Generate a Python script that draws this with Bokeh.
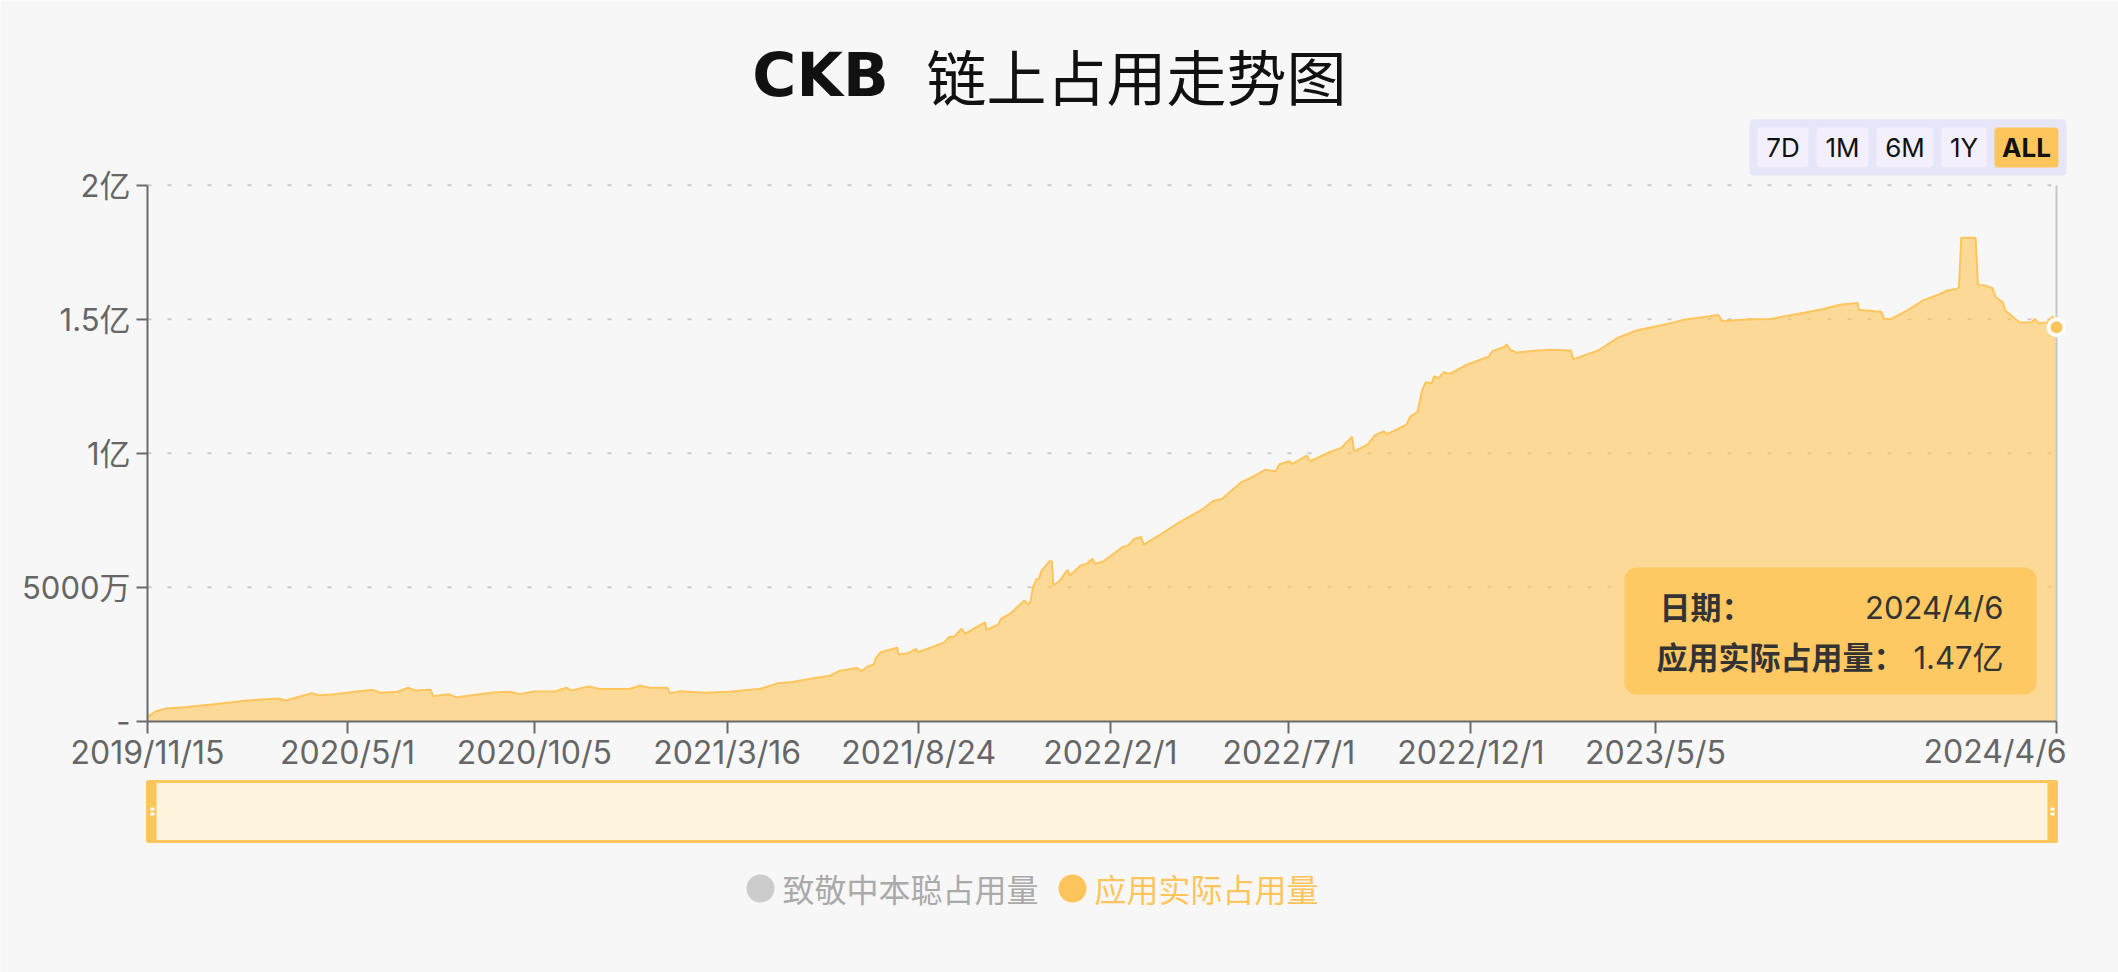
import pandas as pd
from bokeh.plotting import figure
from bokeh.models import ColumnDataSource, FixedTicker, Range1d, BoxAnnotation, Label
from bokeh.embed import file_html
from bokeh.resources import INLINE

# ---------------- data ----------------
dates = [
    "2019-11-15", "2019-11-22", "2019-11-30", "2019-12-16", "2020-01-08", "2020-02-07", "2020-03-04",
    "2020-03-10", "2020-04-01", "2020-04-07", "2020-04-18", "2020-05-07", "2020-05-22", "2020-05-29",
    "2020-06-12", "2020-06-21", "2020-06-27", "2020-07-10", "2020-07-12", "2020-07-25", "2020-08-01",
    "2020-08-09", "2020-08-31", "2020-09-15", "2020-09-23", "2020-10-04", "2020-10-23", "2020-11-01",
    "2020-11-05", "2020-11-20", "2020-11-29", "2020-12-24", "2021-01-02", "2021-01-10", "2021-01-25",
    "2021-01-27", "2021-02-05", "2021-02-25", "2021-03-18", "2021-04-13", "2021-04-28", "2021-05-10",
    "2021-05-25", "2021-06-02", "2021-06-10", "2021-06-18", "2021-07-03", "2021-07-07", "2021-07-12",
    "2021-07-17", "2021-07-19", "2021-07-23", "2021-08-06", "2021-08-07", "2021-08-15", "2021-08-22",
    "2021-08-23", "2021-09-04", "2021-09-15", "2021-09-18", "2021-09-23", "2021-09-29", "2021-10-02",
    "2021-10-09", "2021-10-19", "2021-10-20", "2021-10-30", "2021-11-01", "2021-11-09", "2021-11-17",
    "2021-11-21", "2021-11-24", "2021-11-26", "2021-11-28", "2021-12-01", "2021-12-03", "2021-12-05",
    "2021-12-12", "2021-12-14", "2021-12-15", "2021-12-20", "2021-12-27", "2021-12-29", "2022-01-07",
    "2022-01-12", "2022-01-17", "2022-01-19", "2022-01-26", "2022-02-11", "2022-02-16", "2022-02-21",
    "2022-02-27", "2022-03-01", "2022-03-16", "2022-03-28", "2022-04-20", "2022-04-28", "2022-05-06",
    "2022-05-22", "2022-05-30", "2022-06-11", "2022-06-20", "2022-06-23", "2022-07-01", "2022-07-04",
    "2022-07-16", "2022-07-19", "2022-08-04", "2022-08-14", "2022-08-23", "2022-08-25", "2022-09-05",
    "2022-09-11", "2022-09-19", "2022-09-21", "2022-10-08", "2022-10-11", "2022-10-17", "2022-10-21",
    "2022-10-24", "2022-10-29", "2022-10-31", "2022-11-04", "2022-11-08", "2022-11-13", "2022-11-28",
    "2022-12-16", "2022-12-19", "2022-12-29", "2022-12-31", "2023-01-03", "2023-01-08", "2023-01-22",
    "2023-02-05", "2023-02-23", "2023-02-25", "2023-03-14", "2023-03-19", "2023-04-03", "2023-04-19",
    "2023-05-07", "2023-05-22", "2023-05-29", "2023-06-27", "2023-06-30", "2023-07-23", "2023-08-10",
    "2023-09-08", "2023-09-22", "2023-10-07", "2023-10-22", "2023-10-23", "2023-11-05", "2023-11-11",
    "2023-11-13", "2023-11-19", "2023-11-30", "2023-12-16", "2023-12-29", "2024-01-05", "2024-01-13",
    "2024-01-15", "2024-01-17", "2024-01-29", "2024-01-31", "2024-02-06", "2024-02-12", "2024-02-15",
    "2024-02-21", "2024-02-23", "2024-02-28", "2024-03-06", "2024-03-16", "2024-03-19", "2024-03-22",
    "2024-03-29", "2024-04-03", "2024-04-06",
]
# 应用实际占用量, in 亿
values_yi = [
    0.015, 0.037, 0.047, 0.052, 0.062, 0.077, 0.085,
    0.077, 0.104, 0.097, 0.100, 0.110, 0.117, 0.106,
    0.110, 0.125, 0.115, 0.117, 0.093, 0.101, 0.089,
    0.094, 0.107, 0.110, 0.101, 0.111, 0.112, 0.125,
    0.115, 0.130, 0.120, 0.120, 0.133, 0.125, 0.125,
    0.104, 0.112, 0.106, 0.110, 0.121, 0.142, 0.146,
    0.158, 0.164, 0.170, 0.187, 0.199, 0.187, 0.204,
    0.211, 0.235, 0.257, 0.274, 0.249, 0.254, 0.270,
    0.257, 0.276, 0.295, 0.313, 0.316, 0.345, 0.326,
    0.345, 0.369, 0.341, 0.361, 0.382, 0.401, 0.435,
    0.450, 0.435, 0.448, 0.500, 0.531, 0.531, 0.560,
    0.597, 0.597, 0.506, 0.522, 0.565, 0.544, 0.581,
    0.587, 0.606, 0.587, 0.596, 0.649, 0.656, 0.680,
    0.687, 0.659, 0.699, 0.734, 0.792, 0.821, 0.830,
    0.892, 0.908, 0.938, 0.933, 0.958, 0.970, 0.960,
    0.991, 0.970, 1.004, 1.020, 1.062, 1.007, 1.032,
    1.066, 1.082, 1.070, 1.107, 1.137, 1.153, 1.236,
    1.265, 1.261, 1.286, 1.280, 1.302, 1.296, 1.331,
    1.361, 1.381, 1.396, 1.406, 1.386, 1.376, 1.381,
    1.386, 1.383, 1.351, 1.377, 1.386, 1.430, 1.458,
    1.475, 1.490, 1.498, 1.516, 1.493, 1.500, 1.501,
    1.525, 1.537, 1.554, 1.560, 1.535, 1.530, 1.528,
    1.501, 1.501, 1.526, 1.570, 1.592, 1.607, 1.613,
    1.620, 1.804, 1.804, 1.629, 1.626, 1.617, 1.582,
    1.563, 1.532, 1.514, 1.488, 1.489, 1.501, 1.485,
    1.488, 1.510, 1.470,
]

x_tick_dates = ["2019-11-15", "2020-05-01", "2020-10-05", "2021-03-16", "2021-08-24",
                "2022-02-01", "2022-07-01", "2022-12-01", "2023-05-05", "2024-04-06"]
y_ticks = [0, 0.5, 1, 1.5, 2]
y_tick_labels = ["-", "5000万", "1亿", "1.5亿", "2亿"]
range_buttons = ["7D", "1M", "6M", "1Y", "ALL"]
legend_labels = ["致敬中本聪占用量", "应用实际占用量"]
title_brand = "CKB"
title_text = "链上占用走势图"
tooltip_labels = ["日期：", "应用实际占用量："]

# ---------------- styles / layout ----------------
BG = "#f7f7f7"
ORANGE = "#fdc55b"
AXIS = "#6a6a6a"
LABEL = "#666666"
CJK = "Noto Sans CJK SC"
MIXED = 'Inter, "Noto Sans CJK SC"'

W, H = 2118, 972
X_FIRST, X_LAST = 147, 2056           # pixel columns of first / last date
Y_ZERO, PX_PER_YI = 720.7, 268.0      # pixel row of 0 and pixels per 1亿


def ms(ts):
    return ts.value // 10**6


def fmt_date(ts):
    return f"{ts.year}/{ts.month}/{ts.day}"


t = pd.to_datetime(dates)
t0, t1 = t[0], t[-1]
source = ColumnDataSource(dict(x=t, y=values_yi))

# the frame covers the whole canvas; both axes are pinned at data locations
ms_per_px = (ms(t1) - ms(t0)) / (X_LAST - X_FIRST)
x_range = Range1d(ms(t0) - X_FIRST * ms_per_px, ms(t1) + (W - X_LAST) * ms_per_px)
y_range = Range1d(-(H - Y_ZERO) / PX_PER_YI, Y_ZERO / PX_PER_YI)

p = figure(width=W, height=H, x_axis_type="datetime", output_backend="svg", toolbar_location=None,
           x_range=x_range, y_range=y_range,
           min_border_left=0, min_border_right=0, min_border_top=0, min_border_bottom=0)
p.background_fill_color = BG
p.border_fill_color = BG
p.outline_line_color = None
p.xgrid.visible = False
p.ygrid.visible = False

# dotted horizontal grid lines, limited to the data span
grid_y = y_ticks[1:]
p.segment(x0=[ms(t0)] * len(grid_y), y0=grid_y, x1=[ms(t1)] * len(grid_y), y1=grid_y,
          line_color="#cccccc", line_width=2, line_dash="4 16")

# area + line
p.varea(x="x", y1=0, y2="y", source=source, fill_color="#ffc65a", fill_alpha=0.62)
p.line(x="x", y="y", source=source, line_color=ORANGE, line_width=2)
# axis pointer at latest date
p.segment(x0=[ms(t1)], y0=[y_ticks[0]], x1=[ms(t1)], y1=[y_ticks[-1]], line_color="#c8c8c8", line_width=2)
p.scatter(x=[ms(t1)], y=[values_yi[-1]], size=16, marker="circle",
          fill_color=ORANGE, line_color="white", line_width=4)

# y axis, pinned at the first date
ya = p.yaxis[0]
ya.fixed_location = ms(t0)
ya.ticker = FixedTicker(ticks=y_ticks)
ya.major_label_overrides = dict(zip(y_ticks, y_tick_labels))
ya.bounds = (y_ticks[0], y_ticks[-1])
ya.axis_line_color = AXIS
ya.axis_line_width = 2
ya.major_tick_line_color = AXIS
ya.major_tick_line_width = 2
ya.major_tick_in = 0
ya.major_tick_out = 11
ya.minor_tick_line_color = None
ya.major_label_standoff = 6
ya.major_label_text_font = MIXED
ya.major_label_text_font_size = "31px"
ya.major_label_text_color = LABEL

# x axis, pinned at y = 0
xt = pd.to_datetime(x_tick_dates)
x_tick_ms = [ms(v) for v in xt]
x_over = {k: fmt_date(v) for k, v in zip(x_tick_ms, xt)}
x_over[x_tick_ms[-1]] = ""
xa = p.xaxis[0]
xa.fixed_location = 0
xa.ticker = FixedTicker(ticks=x_tick_ms)
xa.major_label_overrides = x_over
xa.bounds = (ms(t0), ms(t1))
xa.axis_line_color = AXIS
xa.axis_line_width = 2
xa.major_tick_line_color = AXIS
xa.major_tick_line_width = 2
xa.major_tick_in = 0
xa.major_tick_out = 12
xa.minor_tick_line_color = None
xa.major_label_standoff = 0
xa.major_label_text_font = MIXED
xa.major_label_text_font_size = "32px"
xa.major_label_text_color = LABEL


def sy(Y):
    return H - Y


def lab(X, Y, text, size, font=CJK, color="#111111", align="left", style="normal", baseline="middle"):
    p.add_layout(Label(x=X, y=sy(Y), x_units="screen", y_units="screen", text=text,
                       text_font=font, text_font_size=size, text_font_style=style,
                       text_color=color, text_align=align, text_baseline=baseline))


def box(L, R, T, B, color, radius=0, line_color=None, line_width=1):
    p.add_layout(BoxAnnotation(left=L, right=R, top=sy(T), bottom=sy(B),
                               left_units="screen", right_units="screen",
                               top_units="screen", bottom_units="screen",
                               fill_color=color, fill_alpha=1,
                               line_color=line_color, line_alpha=1, line_width=line_width,
                               border_radius=int(radius), level="annotation"))


# last x label, kept inside the canvas
lab(2066, 751, fmt_date(xt[-1]), "32px", font=MIXED, color=LABEL, align="right")

# ---------------- title ----------------
lab(820, 74, title_brand, "60px", font="DejaVu Sans", align="center", style="bold")
lab(926, 74, title_text, "60px")

# ---------------- range buttons ----------------
box(1749, 2066, 119, 175, "#e7e5f8", radius=4)
btn_edges = [(1757, 1808), (1816, 1868), (1876, 1933), (1941, 1986), (1994, 2058)]
for name, (l, r) in zip(range_buttons, btn_edges):
    active = name == range_buttons[-1]
    box(l, r, 127, 167, ORANGE if active else "#f3effd", radius=4)
    lab((l + r) / 2, 147, name, "26px", font="Inter", align="center",
        style="bold" if active else "normal")

# ---------------- tooltip ----------------
box(1624, 2036, 567, 694, "#fec862", radius=12)
lab(1659, 607, tooltip_labels[0], "31px", font=MIXED, color="#333333", style="bold")
lab(2003, 607, fmt_date(t1), "31px", font=MIXED, color="#333333", align="right")
lab(1656, 657, tooltip_labels[1], "31px", font=MIXED, color="#333333", style="bold")
lab(2003, 657, f"{values_yi[-1]:.2f}亿", "31px", font=MIXED, color="#333333", align="right")

# ---------------- data zoom slider ----------------
box(147, 2056, 781, 841, "#fef3dc", line_color=ORANGE, line_width=3)
for l in (147, 2047):
    box(l, l + 9, 781, 841, ORANGE)
    box(l + 3, l + 7, 807, 810, "#ffffff")
    box(l + 3, l + 7, 812, 815, "#ffffff")

# ---------------- legend ----------------
legend_items = [(legend_labels[0], "#cccccc", "#aaaaaa", 760, 782),
                (legend_labels[1], ORANGE, ORANGE, 1072, 1094)]
for text, dot, tcol, cx, tx in legend_items:
    box(cx - 14, cx + 14, 874, 902, dot, radius=14)
    lab(tx, 887, text, "32px", color=tcol)

open("out.html", "w").write(file_html(p, INLINE))
